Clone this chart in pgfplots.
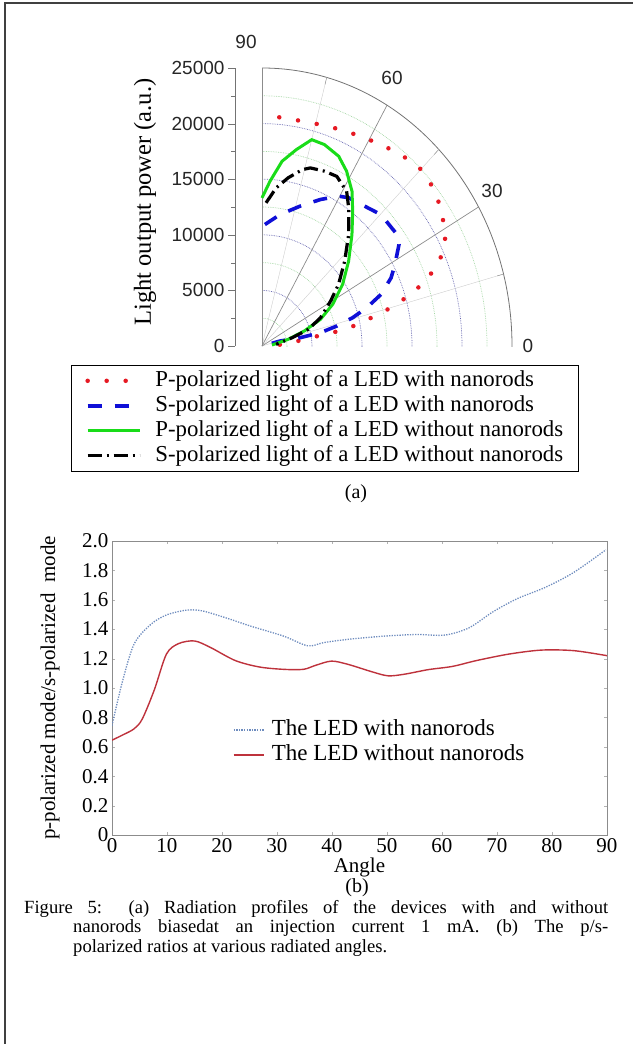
\documentclass[border=0pt]{standalone}
\usepackage{pgfplots}
\pgfplotsset{compat=1.18}
\usepackage{fontspec}
\setmainfont{Liberation Serif}
\newfontfamily\arial{Liberation Sans}

\definecolor{pred}{RGB}{230,25,35}
\definecolor{sblue}{RGB}{15,15,215}
\definecolor{pgreen}{RGB}{25,220,25}
\definecolor{gridblue}{RGB}{100,100,175}
\definecolor{gridgreen}{RGB}{165,215,165}
\definecolor{ratioblue}{RGB}{110,140,190}
\definecolor{ratiored}{RGB}{190,50,60}

\begin{document}
\begin{tikzpicture}
\useasboundingbox (0pt,0pt) rectangle (633pt,-1044pt);

% frame, free text and caption (page pixels, y downwards)
\begin{scope}[x=1pt,y=-1pt]
\draw[line width=2pt, black!75] (4.5,1044) -- (4.5,3) -- (633,3);
\begin{scope}[every node/.style={font=\arial\fontsize{19}{20}\selectfont, text=black!85}]
\node at (246,42) {90};
\node at (392,78) {60};
\node at (492,191) {30};
\node at (528,346) {0};
\end{scope}
\node[rotate=90, font=\fontsize{24.5}{26}\selectfont] at (145,202) {Light output power (a.u.)};
\node[font=\fontsize{20}{22}\selectfont] at (356,494) {(a)};
\node[font=\fontsize{20}{22}\selectfont] at (357,888) {(b)};
\begin{scope}[every node/.style={anchor=base west, inner sep=0pt, font=\fontsize{18.6}{20}\selectfont}]
\node at (24,913) {\makebox[584pt][s]{Figure 5: (a) Radiation profiles of the devices with and without}};
\node at (73,932.5) {\makebox[535pt][s]{nanorods biasedat an injection current 1 mA. (b) The p/s-}};
\node at (73,952) {polarized ratios at various radiated angles.};
\end{scope}
\end{scope}

% (a) radiation profiles, polar data in (angle, power)
\begin{axis}[
  at={(235pt,-346pt)}, anchor=south west,
  scale only axis, width=277pt, height=278pt,
  xmin=-2700, xmax=25000, ymin=0, ymax=25000,
  axis x line=none, axis y line=left,
  y axis line style={-, black!55},
  ytick={0,5000,...,25000}, minor ytick={2500,7500,...,22500},
  scaled y ticks=false,
  tick align=outside, major tick length=7pt, minor tick length=4pt,
  tick style={black!55},
  /pgf/number format/1000 sep={},
  /pgf/number format/assume math mode=true,
  yticklabel style={font=\arial\fontsize{19}{20}\selectfont, text=black!85},
  clip=false,
  legend cell align=left,
  legend image code/.code={\draw[#1] (0pt,0pt) -- (52pt,0pt); \path (64pt,0pt);},
  legend style={at={(-0.592,-0.068)}, anchor=north west, draw=black, line width=0.8pt,
    inner xsep=14pt, inner ysep=3pt, row sep=0pt,
    font=\fontsize{22.8}{24}\selectfont,
    nodes={inner sep=1.5pt, text height=16.5pt, text depth=5.5pt}},
]
\begin{scope}
\clip (axis cs:0,0) rectangle (axis cs:26000,26000);
\pgfplotsinvokeforeach{2500,7500,12500,17500,22500}{
  \draw[gridgreen, densely dotted, line width=0.7pt] (axis cs:0,0) circle[radius=#1];}
\pgfplotsinvokeforeach{5000,10000,15000,20000}{
  \draw[gridblue, densely dotted, line width=0.7pt] (axis cs:0,0) circle[radius=#1];}
\draw[black!55, line width=0.8pt] (axis cs:0,0) circle[radius=25000];
\end{scope}
\draw[black!20] (axis cs:0,0) -- (axis cs:24148,6470);
\draw[black!20] (axis cs:0,0) -- (axis cs:17678,17678);
\draw[black!20] (axis cs:0,0) -- (axis cs:6470,24148);
\draw[black!45, line width=0.7pt] (axis cs:0,0) -- (axis cs:21651,12500);
\draw[black!45, line width=0.7pt] (axis cs:0,0) -- (axis cs:12500,21651);
\draw[black!45, line width=0.7pt] (axis cs:0,0) -- (axis cs:0,25000);
\draw[black!45] (axis cs:24148,6470) -- (axis cs:23520,6302);
\draw[black!45] (axis cs:17678,17678) -- (axis cs:17218,17218);
\draw[black!45] (axis cs:6470,24148) -- (axis cs:6302,23520);

\addplot[pred, line width=4.5pt, line cap=round, dash pattern=on 0pt off 19pt, data cs=polar] coordinates {
 (85.2,20640) (79.5,20610) (73.6,20750) (68.0,20990) (62.4,21290) (56.7,21670)
 (51.1,22130) (44.9,22480) (38.8,22240) (33.3,21560) (28.1,20800) (23.6,19450)
 (19.7,17480) (16.9,15170) (14.5,12830) (12.5,10660) (10.1,8520) (9.5,6340)
 (8.0,4280) (3.9,2220) (2,500)
};
\addlegendentry{P-polarized light of a LED with nanorods}
\addplot[sblue, line width=3.6pt, dash pattern=on 14pt off 13pt, data cs=polar] coordinates {
 (88.5,10930) (81.3,11960) (73.1,13150) (66.1,14410) (60.4,15500) (57.0,15900)
 (50.7,16240) (44.8,16770) (36.6,16820) (33.7,16470) (28.9,15190) (25.4,14290)
 (21.3,12770) (18.2,11030) (15.7,9420) (13.5,7670) (11.6,5970) (11.1,3900)
 (13.9,1870) (13.9,620)
};
\addlegendentry{S-polarized light of a LED with nanorods}
\addplot[pgreen, line width=3pt, data cs=polar] coordinates {
 (90,13320) (86.9,14840) (83.1,16740) (79.0,17990) (75.0,19210) (71.0,19160)
 (65.8,18710) (61.7,17850) (57.1,16570) (53.2,15140) (48.1,13470) (41.4,11550)
 (34.5,9780) (27.9,7990) (22.3,6320) (17.7,4440) (12.9,2690) (5,1000)
};
\addlegendentry{P-polarized light of a LED without nanorods}
\addplot[black, line width=3.2pt, dash pattern=on 14pt off 5pt on 2pt off 5pt, data cs=polar] coordinates {
 (88.2,12880) (84.3,14290) (80.2,15350) (75.7,16370) (73.2,16730) (68.3,16920)
 (63.9,16990) (58.7,16290) (55.1,15150) (49.2,13260) (42.7,11250) (35.9,9450)
 (30.5,7960) (23.5,6380) (17.9,4870) (13.9,3120) (6.0,1420)
};
\addlegendentry{S-polarized light of a LED without nanorods}
\end{axis}

% (b) p/s ratio against angle
\begin{axis}[
  at={(112pt,-835pt)}, anchor=south west,
  scale only axis, width=495pt, height=294pt,
  xmin=0, xmax=90, ymin=0, ymax=2,
  xtick={0,10,...,90}, xticklabels={0,10,20,30,40,50,60,70,80,90},
  ytick={0,0.2,...,2.0}, yticklabels={0,0.2,0.4,0.6,0.8,1.0,1.2,1.4,1.6,1.8,2.0},
  axis line style={black!45, line width=0.8pt},
  tick style={black!30}, tick align=inside, major tick length=3pt,
  tick label style={font=\fontsize{21}{22}\selectfont},
  xlabel={Angle}, ylabel={p-polarized mode/s-polarized\ \ mode},
  every axis x label/.style={at={(rel axis cs:0.5,0)}, anchor=center, yshift=-32pt, font=\fontsize{21}{22}\selectfont},
  every axis y label/.style={at={(rel axis cs:0,0.5)}, anchor=center, xshift=-62pt, rotate=90, font=\fontsize{21}{22}\selectfont},
  legend cell align=left,
  legend image code/.code={\draw[#1] (0pt,0pt) -- (30pt,0pt); \path (36pt,0pt);},
  legend style={at={(0.244,0.40)}, anchor=north west, draw=none, fill=none,
    inner sep=0pt, row sep=0pt, font=\fontsize{23}{24}\selectfont,
    nodes={inner sep=1.5pt, text height=16.5pt, text depth=5.5pt}},
]
\addplot[ratioblue, line width=1.3pt, dash pattern=on 1.3pt off 1.3pt, smooth] coordinates {
 (0,0.744) (1.8,1.03) (4.0,1.298) (7.0,1.431) (9.9,1.497) (13.6,1.53) (16.5,1.524)
 (20.9,1.475) (25.3,1.42) (31.2,1.353) (35.6,1.287) (38.5,1.309) (42.9,1.331)
 (49.5,1.353) (55.4,1.364) (60.5,1.36) (64.9,1.409) (69.3,1.519) (73.7,1.608)
 (78.8,1.685) (83.9,1.785) (89.8,1.94)
};
\addlegendentry{The LED with nanorods}
\addplot[ratiored, line width=1.4pt, smooth] coordinates {
 (0,0.645) (1.8,0.678) (4.0,0.722) (5.5,0.789) (7.7,0.988) (9.9,1.231) (12.1,1.302)
 (15.0,1.32) (17.9,1.276) (22.4,1.187) (26.8,1.143) (31.2,1.127) (34.8,1.127)
 (37.0,1.154) (39.9,1.183) (42.9,1.161) (47.3,1.11) (50.2,1.083) (53.2,1.094)
 (57.5,1.125) (61.9,1.147) (66.3,1.187) (72.2,1.231) (78.1,1.258) (84.0,1.254)
 (90,1.22)
};
\addlegendentry{The LED without nanorods}
\end{axis}
\end{tikzpicture}
\end{document}
